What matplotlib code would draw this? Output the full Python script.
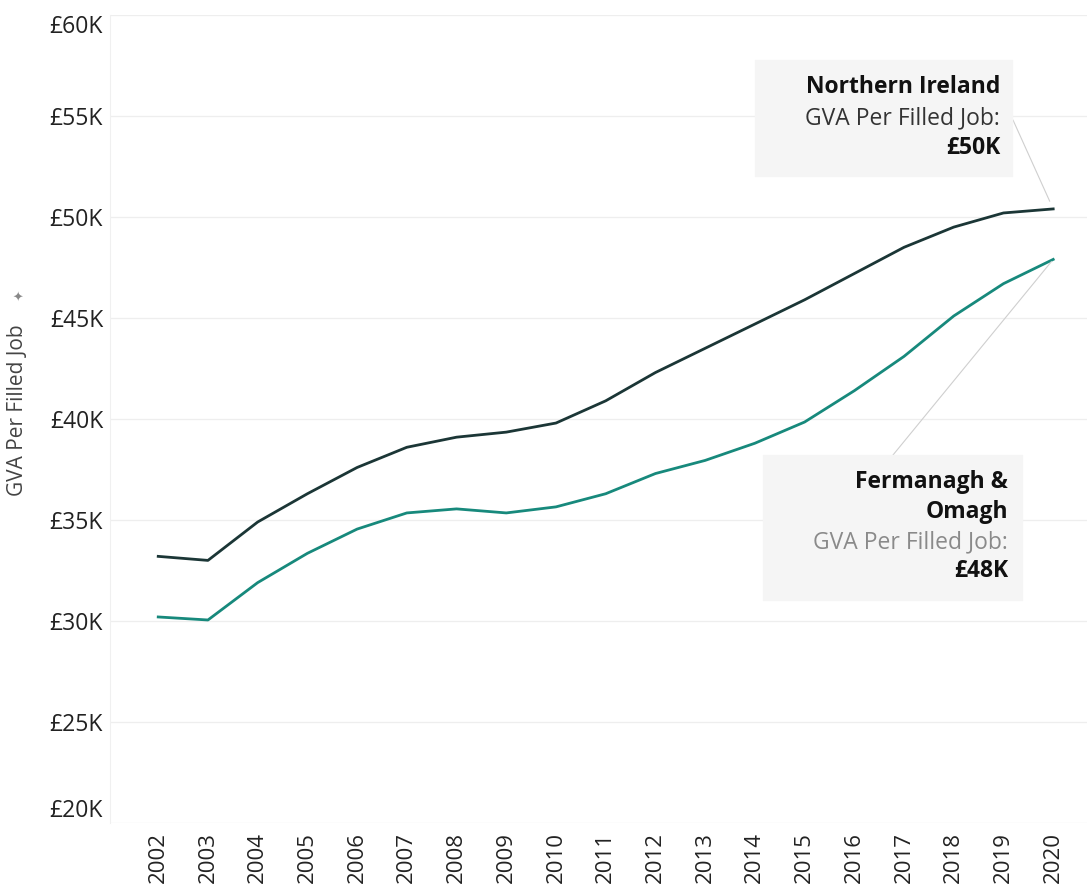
import matplotlib.pyplot as plt
from matplotlib.patches import Rectangle
from matplotlib.ticker import FuncFormatter

plt.rcParams['font.family'] = ['Open Sans', 'DejaVu Sans']

years = list(range(2002, 2021))
northern_ireland = [33.2, 33.0, 34.9, 36.3, 37.6, 38.6, 39.1, 39.35, 39.8, 40.9,
                    42.3, 43.5, 44.7, 45.9, 47.2, 48.5, 49.5, 50.2, 50.4]
fermanagh_omagh = [30.2, 30.05, 31.9, 33.35, 34.55, 35.35, 35.55, 35.35, 35.65, 36.3,
                   37.3, 37.95, 38.8, 39.85, 41.4, 43.1, 45.1, 46.7, 47.9]
y_ticks = [20, 25, 30, 35, 40, 45, 50, 55, 60]

DARK = '#1b3636'
TEAL = '#17897c'
W, H = 1087, 890

fig = plt.figure(figsize=(W / 100, H / 100), dpi=100)
ax = fig.add_axes([110 / W, 1 - 823 / H, 1 - 110 / W, (823 - 15) / H])

ax.plot(years, [v * 1000 for v in northern_ireland], color=DARK, lw=2.0, zorder=3)
ax.plot(years, [v * 1000 for v in fermanagh_omagh], color=TEAL, lw=2.0, zorder=3)

ax.set_xlim(2001.03, 2020.68)
ax.set_ylim(20000, 60000)
ax.set_yticks([t * 1000 for t in y_ticks])
ax.yaxis.set_major_formatter(FuncFormatter(lambda v, p: f'£{v / 1000:.0f}K'))
ax.set_xticks(years)
ax.set_xticklabels([str(y) for y in years], rotation=90, va='center')

ax.grid(axis='y', color='#eeeeee', lw=0.9)
ax.set_axisbelow(True)
for s in ['top', 'right', 'bottom']:
    ax.spines[s].set_visible(False)
ax.spines['left'].set_color('#f0f0f0')
ax.tick_params(axis='y', length=0, pad=5, labelsize=16.5, labelcolor='#222222')
ax.tick_params(axis='x', length=0, pad=25, labelsize=16, labelcolor='#222222')

ylabels = ax.get_yticklabels()
ylabels[0].set_va('bottom')
ylabels[-1].set_va('top')

fig.text(18 / W, 1 - 410 / H, 'GVA Per Filled Job', rotation=90, ha='center',
         va='center', fontsize=15, color='#444444')
fig.text(18 / W, 1 - 298 / H, '✦', ha='center', va='center', fontsize=9,
         color='#888888', family=['DejaVu Sans'])

# annotation boxes
fig.patches.append(Rectangle((755 / W, 1 - 176 / H), 257 / W, 116 / H,
                             transform=fig.transFigure, color='#f5f5f5', zorder=1))
fig.patches.append(Rectangle((763 / W, 1 - 600 / H), 259 / W, 145 / H,
                             transform=fig.transFigure, color='#f5f5f5', zorder=1))

ax.annotate('', xy=(years[-1], northern_ireland[-1] * 1000),
            xytext=(1013 / W, 1 - 120 / H), textcoords='figure fraction',
            arrowprops=dict(arrowstyle='-', color='#cfcfcf', lw=0.8, shrinkA=0, shrinkB=6))
ax.annotate('', xy=(years[-1], fermanagh_omagh[-1] * 1000),
            xytext=(893 / W, 1 - 455 / H), textcoords='figure fraction',
            arrowprops=dict(arrowstyle='-', color='#cfcfcf', lw=0.8, shrinkA=0, shrinkB=2))


def box_line(x, y, s, bold=False, color='#111111'):
    fig.text(x / W, 1 - y / H, s, ha='right', va='center', fontsize=16.5,
             fontweight='bold' if bold else 'normal', color=color, zorder=5)


box_line(1000, 87, 'Northern Ireland', bold=True)
box_line(1000, 118, 'GVA Per Filled Job:', color='#333333')
box_line(1000, 148, f'£{northern_ireland[-1]:.0f}K', bold=True)

box_line(1008, 482, 'Fermanagh &', bold=True)
box_line(1008, 512, 'Omagh', bold=True)
box_line(1008, 542, 'GVA Per Filled Job:', color='#8a8a8a')
box_line(1008, 571, f'£{fermanagh_omagh[-1]:.0f}K', bold=True)

fig.savefig('out.png', dpi=100)
